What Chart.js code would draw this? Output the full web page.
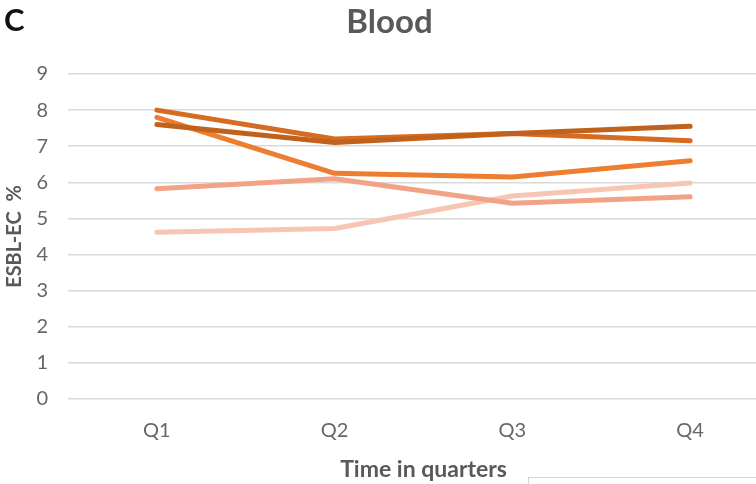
<!DOCTYPE html>
<html>
<head>
<meta charset="utf-8">
<script src="https://cdn.jsdelivr.net/npm/chart.js@4/dist/chart.umd.min.js"></script>
<style>
  html, body { margin:0; padding:0; background:#fff; overflow:hidden; width:756px; height:484px; }
  #wrap { position:absolute; left:0; top:0; width:779px; height:484px; }
  #panel { position:absolute; left:4px; top:0px; font-family:Lato, "Open Sans", sans-serif; font-weight:bold; font-size:31px; color:#111; }
  #legendbox { position:absolute; left:528px; top:477px; width:260px; height:30px; border:1px solid #d4d4d4; }
</style>
</head>
<body>
<div id="wrap"><canvas id="c" width="779" height="484"></canvas></div>
<div id="panel">C</div>
<div id="legendbox"></div>
<script>
const categories = ["Q1", "Q2", "Q3", "Q4"];
const seriesA = [7.6, 7.1, 7.35, 7.55];
const seriesB = [8.0, 7.2, 7.35, 7.15];
const seriesC = [7.8, 6.25, 6.15, 6.6];
const seriesD = [5.82, 6.1, 5.42, 5.6];
const seriesE = [4.62, 4.72, 5.62, 5.98];
const yTicks = [0, 1, 2, 3, 4, 5, 6, 7, 8, 9];

const colors = ["#C0611C", "#D66C22", "#ED7D31", "#F2A387", "#F7C6B3"];
const allSeries = [seriesA, seriesB, seriesC, seriesD, seriesE];

const datasets = allSeries.map((d, i) => ({
  label: "S" + (i + 1),
  data: d,
  borderColor: colors[i],
  backgroundColor: colors[i],
  borderWidth: 5,
  pointRadius: 0,
  tension: 0,
  borderCapStyle: "round",
  borderJoinStyle: "round",
  fill: false
}));

const FONT = "Lato, 'Open Sans', sans-serif";
new Chart(document.getElementById("c"), {
  type: "line",
  data: { labels: categories, datasets: datasets },
  options: {
    responsive: false,
    animation: false,
    layout: { padding: { left: 0, right: 0, top: 0, bottom: 0 } },
    plugins: {
      legend: { display: false },
      tooltip: { enabled: false },
      title: {
        display: true,
        text: "Blood",
        color: "#595959",
        font: { family: FONT, size: 33, weight: "bold" },
        padding: { top: 2.5, bottom: 31.9 }
      }
    },
    scales: {
      x: {
        offset: true,
        grid: { display: false, drawTicks: false },
        border: { display: false },
        ticks: { color: "#666", font: { family: FONT, size: 20 }, padding: 20 },
        title: { display: true, text: "Time in quarters", color: "#595959", font: { family: FONT, size: 23, weight: "bold" }, padding: { top: 10, bottom: 1 } },
        afterFit: (axis) => { axis.height = 85; }
      },
      y: {
        min: 0, max: 9,
        afterBuildTicks: (axis) => { axis.ticks = yTicks.map(v => ({ value: v })); },
        grid: { color: "#D9D9D9", lineWidth: 1.5, drawTicks: false },
        border: { display: false },
        ticks: { color: "#666", font: { family: FONT, size: 20 }, padding: 20 },
        title: { display: true, text: "ESBL-EC  %", color: "#595959", font: { family: FONT, size: 20, weight: "bold" }, padding: { top: 3, bottom: 4 } },
        afterFit: (axis) => { axis.width = 68; }
      }
    }
  }
});
</script>
</body>
</html>
